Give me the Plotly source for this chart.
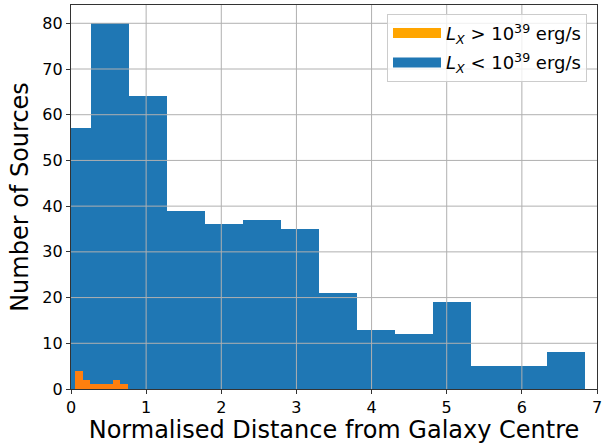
import plotly.graph_objects as go

# Histogram data
blue_edges = [-0.24, 0.266, 0.772, 1.278, 1.784, 2.29, 2.796, 3.302, 3.808, 4.314, 4.82, 5.326, 5.832, 6.338, 6.844]
blue_counts = [57, 80, 64, 39, 36, 37, 35, 21, 13, 12, 19, 5, 5, 8]

orange_edges = [0.053, 0.153, 0.253, 0.353, 0.453, 0.553, 0.653, 0.753]
orange_counts = [4, 2, 1, 1, 1, 2, 1]

x_ticks = [0, 1, 2, 3, 4, 5, 6, 7]
y_ticks = [0, 10, 20, 30, 40, 50, 60, 70, 80]

BLUE = "#1f77b4"
ORANGE = "#ff7f0e"
ORANGE_LEG = "#ffa500"


def centers(edges):
    return [(a + b) / 2 for a, b in zip(edges[:-1], edges[1:])]


def widths(edges):
    return [b - a for a, b in zip(edges[:-1], edges[1:])]


fig = go.Figure()

fig.add_trace(go.Bar(x=centers(blue_edges), y=blue_counts, width=widths(blue_edges),
                     marker=dict(color=BLUE, line=dict(width=0)), showlegend=False))
fig.add_trace(go.Bar(x=centers(orange_edges), y=orange_counts, width=widths(orange_edges),
                     marker=dict(color=ORANGE, line=dict(width=0)), showlegend=False))

# legend proxies (wide patches)
fig.add_trace(go.Scatter(x=[None], y=[None], mode="lines", line=dict(color=ORANGE_LEG, width=14),
                         legendgroup="a", legendrank=1,
                         name="<i>L</i><sub><i>X</i></sub> &gt; 10<sup>39</sup> erg/s"))
fig.add_trace(go.Scatter(x=[None], y=[None], mode="lines", line=dict(color=BLUE, width=14),
                         legendgroup="b", legendrank=2,
                         name="<i>L</i><sub><i>X</i></sub> &lt; 10<sup>39</sup> erg/s"))

# grid drawn above the bars (as in the reference)
shapes = []
for xv in x_ticks[1:-1]:
    shapes.append(dict(type="line", xref="x", yref="paper", x0=xv, x1=xv, y0=0, y1=1,
                       line=dict(color="#b0b0b0", width=1), layer="above"))
for yv in y_ticks[1:]:
    shapes.append(dict(type="line", xref="paper", yref="y", x0=0, x1=1, y0=yv, y1=yv,
                       line=dict(color="#b0b0b0", width=1), layer="above"))

fig.update_layout(
    width=608, height=444,
    margin=dict(l=71, r=11, t=5, b=55),
    paper_bgcolor="white", plot_bgcolor="white",
    barmode="overlay", bargap=0,
    font=dict(family="DejaVu Sans", size=16, color="black"),
    shapes=shapes,
    legend=dict(x=0.981, y=0.977, xanchor="right", yanchor="top",
                bgcolor="rgba(255,255,255,0.8)", bordercolor="#cccccc", borderwidth=1,
                font=dict(size=18), traceorder="grouped", tracegroupgap=3, itemwidth=48),
    xaxis=dict(range=[0, 7], tickvals=x_ticks, showgrid=False, zeroline=False, automargin=False,
               showline=True, linecolor="#333333", linewidth=1.2, mirror=True,
               ticks="outside", ticklen=4, tickcolor="#333333",
               title=dict(text="Normalised Distance from Galaxy Centre", font=dict(size=24), standoff=4)),
    yaxis=dict(range=[0, 84], tickvals=y_ticks, showgrid=False, zeroline=False, automargin=False,
               showline=True, linecolor="#333333", linewidth=1.2, mirror=True,
               ticks="outside", ticklen=4, tickcolor="#333333",
               title=dict(text="Number of Sources", font=dict(size=24), standoff=6)),
)

fig.write_html("out.html", config={"displayModeBar": False},
               post_script="document.body.style.margin='0px';")
